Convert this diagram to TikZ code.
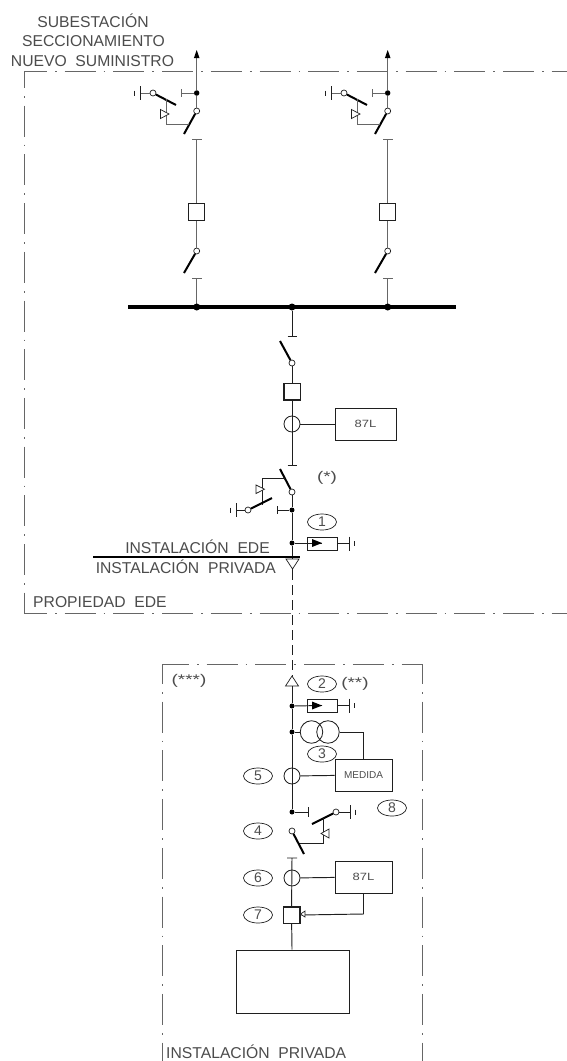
\documentclass[tikz,border=0pt]{standalone}
\usepackage{fontspec}
\usepackage{graphicx}
\setmainfont{Liberation Sans}
\usetikzlibrary{calc,shapes.geometric}
\definecolor{ln}{gray}{0.12}
\definecolor{lg}{gray}{0.4}
\definecolor{tx}{gray}{0.3}
\tikzset{
  wire/.style={draw=ln,line width=0.95pt},
  gwire/.style={draw=lg,line width=1pt},
  blade/.style={draw=black,line width=2pt},
  frame/.style={draw=lg,line width=0.95pt,dash pattern=on 31pt off 8pt on 1.7pt off 8pt},
  dot/.style={circle,fill=black,inner sep=0pt,minimum size=6pt},
  opn/.style={circle,draw=ln,fill=white,line width=0.7pt,inner sep=0pt,minimum size=6pt},
  ct/.style={circle,draw=ln,line width=0.85pt,inner sep=0pt,minimum size=16pt},
  brk/.style={rectangle,draw=ln,fill=white,line width=1.5pt,inner sep=0pt,minimum size=16.5pt},
  relay/.style={rectangle,draw=ln,line width=0.95pt,fill=white,inner sep=0pt,minimum width=57pt,minimum height=32pt,font=\fontsize{10}{10}\selectfont,text=tx},
  tag/.style={ellipse,draw=ln,line width=0.7pt,fill=white,inner sep=0pt,minimum width=29pt,minimum height=16pt,font=\fontsize{14}{14}\selectfont,text=tx},
  note/.style={font=\fontsize{14}{14}\selectfont,text=tx,inner sep=0pt},
  title/.style={font=\fontsize{15.7}{15.7}\selectfont,text=tx,inner sep=0pt},
  tri/.style={draw=ln,fill=white,line width=0.7pt},
  arrester/.style={rectangle,draw=ln,line width=0.95pt,inner sep=0pt,minimum width=30pt,minimum height=13pt},
}
\newcommand{\widen}[1]{\scalebox{1.35}[1]{#1}}
\newcommand{\rl}{\scalebox{1.3}[1.05]{87L}}
\newcommand{\gnd}[3]{%
  \draw[wire] (#1,#2-7) -- (#1,#2+7);
  \draw[wire] (#1+#3*5.5,#2-2.5) -- (#1+#3*5.5,#2+2.5);
}
\newcommand{\bay}[2]{%
 \begin{scope}[xshift=#1pt]
  \node[dot,minimum size=5.5pt] (#2top) at (196.7,93) {};
  \coordinate (#2arrow) at (196.7,51);
  \draw[gwire] (#2top) -- (#2arrow);
  \fill[black] (196.7,50) -- (199.5,58) -- (193.9,58) -- cycle;
  \coordinate (#2st) at (181,93);
  \draw[gwire] (#2top) -- (#2st) (181,89) -- (181,97);
  \node[opn] (#2sw) at (196.7,111) {};
  \draw[gwire] (#2top) -- (#2sw);
  \coordinate (#2swe) at (184,134);
  \draw[blade] (#2sw) -- (#2swe);
  \node[opn] (#2e) at (153,93) {};
  \coordinate (#2g) at (140,93);
  \draw[gwire] (#2e) -- (#2g);
  \gnd{140}{93}{-1}
  \coordinate (#2eb) at (176,105);
  \draw[blade] (#2e) -- (#2eb);
  \draw[gwire] (166,99) -- (166,124) -- (189,124);
  \draw[tri] (160.5,109.5) -- (160.5,118.5) -- (169,114) -- cycle;
  \node[brk,line width=1pt] (#2b) at (196.7,212) {};
  \coordinate (#2t) at (196.7,139);
  \draw[gwire] (#2t) -- (#2b) (192,139) -- (201.5,139);
  \node[opn] (#2sb) at (196.7,251) {};
  \draw[gwire] (#2b) -- (#2sb);
  \coordinate (#2sbe) at (184,273);
  \draw[blade] (#2sb) -- (#2sbe);
  \coordinate (#2t2) at (196.7,278);
  \coordinate (#2bus) at (196.7,307);
  \draw[gwire] (#2t2) -- (#2bus) (192,278) -- (201.5,278);
 \end{scope}
}
\begin{document}
\begin{tikzpicture}[x=1pt,y=-1pt]
\useasboundingbox (0,0) rectangle (567,1061);
\fill[white] (0,0) rectangle (567,1061);
% frames
\coordinate (fTL) at (24,71); \coordinate (fBL) at (24,613);
\coordinate (fTR) at (567,71); \coordinate (fBR) at (567,613);
\draw[frame,dash phase=8pt] (fTL) -- (fTR);
\draw[frame,dash phase=8pt] (fBL) -- (fBR);
\draw[frame,dash phase=14pt] (fTL) -- (fBL);
\coordinate (iTL) at (162,664); \coordinate (iTR) at (422,664);
\coordinate (iBL) at (162,1061); \coordinate (iBR) at (422,1061);
\draw[frame,dash phase=4pt] (iTL) -- (iTR);
\draw[frame,dash phase=11pt] (iTL) -- (iBL);
\draw[frame,dash phase=11pt] (iTR) -- (iBR);
% bays
\bay{0}{a}
\bay{191}{b}
% bus
\coordinate (busL) at (128,307); \coordinate (busR) at (456,307);
\draw[draw=black,line width=3.6pt] (busL) -- (busR);
\node[dot,minimum size=7pt] at (196.7,307) {};
\node[dot,minimum size=7pt] (cbus) at (292,307) {};
\node[dot,minimum size=7pt] at (387.7,307) {};
% centre feeder
\coordinate (ct1) at (292,336);
\draw[wire] (cbus) -- (ct1) (287.5,336) -- (296.5,336);
\node[opn] (csw1) at (292,363) {};
\coordinate (csw1e) at (280,341);
\draw[blade] (csw1) -- (csw1e);
\node[brk] (cb) at (292,391.5) {};
\draw[wire] (csw1) -- (cb);
\node[ct] (cct) at (292,424) {};
\draw[wire] (cb) -- (292,465) (287.5,465) -- (296.5,465);
\node[relay,minimum width=61pt] (r1) at (365.5,424) {\rl};
\draw[wire] (cct) -- (r1);
\node[opn] (csw2) at (292,492) {};
\coordinate (csw2e) at (280,469);
\draw[blade] (csw2) -- (csw2e);
\draw[wire] (285,478) -- (262,478) -- (262,505);
\draw[tri] (256,485) -- (256,493.5) -- (264.5,489.2) -- cycle;
\node[dot,minimum size=5pt] (cd1) at (292,510) {};
\node[dot,minimum size=5pt] (cd2) at (292,543) {};
\draw[wire] (csw2) -- (cd1) -- (cd2) -- (292,570);
\draw[wire] (cd1) -- (277,510) (277,506) -- (277,514);
\node[opn] (ce) at (248,510) {};
\coordinate (ceb) at (272,498);
\draw[blade] (ce) -- (ceb);
\draw[wire] (ce) -- (236,510);
\gnd{236}{510}{-1}
% arrester 1
\node[arrester] (ar1) at (322,543.5) {};
\draw[wire] (cd2) -- (322,543);
\fill[black] (312,539) -- (322,543) -- (312,547) -- cycle;
\draw[wire] (ar1) -- (349,543.5);
\gnd{349}{543.5}{1}
\node[tag] (t1) at (322,522) {1};
\node[note] (ast) at (327,478) {\widen{(*)}};
% boundary
\coordinate (bdL) at (93,557); \coordinate (bdR) at (300,557);
\draw[draw=black,line width=2.4pt] (bdL) -- (bdR);
\node[title,anchor=east] (lede) at (270,547) {INSTALACIÓN\ \ EDE};
\node[title,anchor=east] (lpriv) at (276,566.5) {INSTALACIÓN\ \ PRIVADA};
\draw[tri] (286,559) -- (299,559) -- (292.5,569) -- cycle;
\coordinate (dsh1) at (292,570); \coordinate (dsh2) at (292,677);
\draw[draw=ln,line width=0.9pt,dash pattern=on 10pt off 5pt] (dsh1) -- (dsh2);
\node[title,anchor=west] (lprop) at (33,602) {PROPIEDAD\ \ EDE};
% titles
\node[title] (l1) at (93,21) {SUBESTACIÓN};
\node[title] (l2) at (93.5,41) {SECCIONAMIENTO};
\node[title] (l3) at (92.5,61) {NUEVO\ \ SUMINISTRO};
% lower
\node[note] (a3) at (189,681) {\widen{(***)}};
\node[note] (a2) at (355,684) {\widen{(**)}};
\draw[tri] (292,676) -- (298.5,686) -- (285.5,686) -- cycle;
\node[dot,minimum size=5pt] (d1) at (292,706) {};
\node[dot,minimum size=5pt] (d2) at (292,732) {};
\node[dot,minimum size=5pt] (d3) at (292,812) {};
\coordinate (tri2) at (292,686);
\draw[wire] (tri2) -- (d1) -- (d2) -- (d3);
\node[tag] (t2) at (322,684) {2};
\node[arrester] (ar2) at (322,705.5) {};
\draw[wire] (d1) -- (322,705.5);
\fill[black] (312,701.5) -- (322,705.5) -- (312,709.5) -- cycle;
\draw[wire] (ar2) -- (349,705.5);
\gnd{349}{705.5}{1}
\node[ct,minimum size=22.5pt] (vt1) at (311.5,732) {};
\node[ct,minimum size=22.5pt] (vt2) at (328,732) {};
\draw[wire] (d2) -- (vt1);
\draw[wire] (vt2) -- (363,732) -- (363,759);
\node[tag] (t3) at (322,754) {3};
\node[relay] (med) at (363.5,775) {MEDIDA};
\node[ct] (ct5) at (292,776) {};
\draw[wire] (ct5) -- (med);
\node[tag] (t5) at (258,776) {5};
\node[tag] (t8) at (392,808) {8};
\draw[wire] (d3) -- (308,812) (308,807) -- (308,817);
\node[opn] (e2) at (336,812) {};
\coordinate (e2b) at (312,824);
\draw[blade] (e2) -- (e2b);
\draw[wire] (e2) -- (350,812);
\gnd{350}{812}{1}
\draw[wire] (323,818) -- (323,843) -- (298,843);
\draw[tri] (329,829) -- (329,838) -- (321,833.5) -- cycle;
\node[opn] (s2) at (292,831) {};
\coordinate (s2b) at (304,854);
\draw[blade] (s2) -- (s2b);
\node[tag] (t4) at (258,831) {4};
\node[brk] (b7) at (291.5,915) {};
\draw[wire] (287,858) -- (297,858) (292,858) -- (b7);
\node[ct] (ct6) at (292,878) {};
\node[relay] (r2) at (363.5,877) {\rl};
\draw[wire] (ct6) -- (r2);
\node[tag] (t6) at (258,878) {6};
\node[tag] (t7) at (258,915) {7};
\draw[wire] (r2.south) -- (363.5,914) -- (b7.east);
\draw[tri] (300.5,914) -- (305,911) -- (305,917) -- cycle;
\node[rectangle,draw=ln,line width=0.95pt,inner sep=0pt,minimum width=113pt,minimum height=63pt] (load) at (292.5,981.5) {};
\draw[wire] (b7) -- (load);
\node[title,anchor=west] (lbot) at (166,1052) {INSTALACIÓN\ \ PRIVADA};
\end{tikzpicture}
\end{document}
